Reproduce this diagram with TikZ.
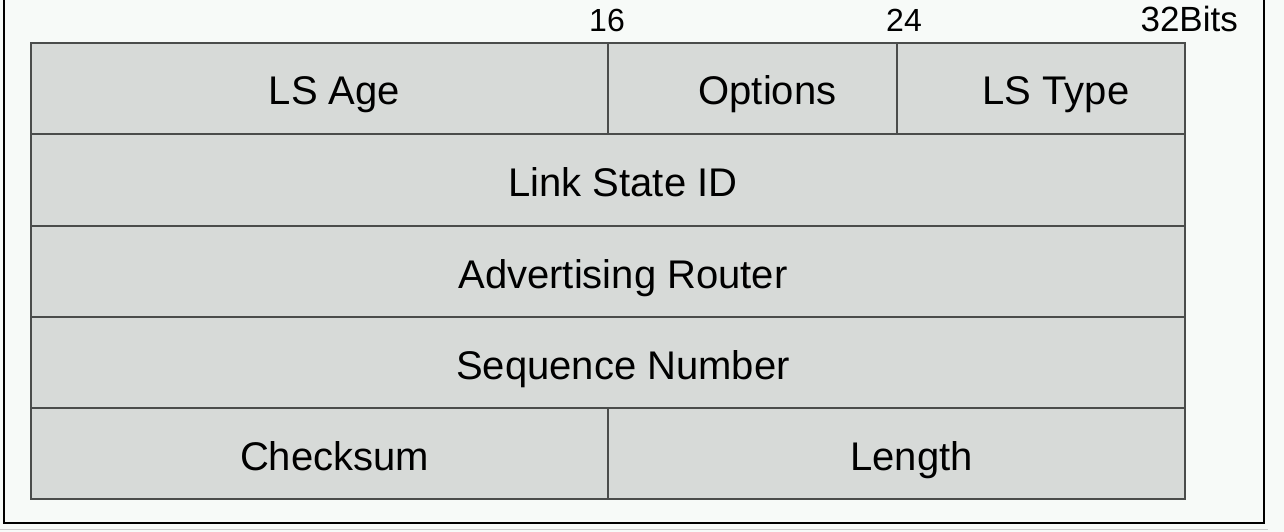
\documentclass[tikz,border=0pt]{standalone}
\usepackage{fontspec}
\setmainfont{Liberation Sans}
\definecolor{pagebg}{HTML}{F7FAF8}
\definecolor{cellfill}{HTML}{D7DAD8}
\definecolor{cellline}{HTML}{4A4C4B}
\begin{document}
\begin{tikzpicture}[x=1pt,y=-1pt,
  cell/.style={draw=cellline,line width=2pt,fill=cellfill,inner sep=0pt,
    anchor=north west,minimum height=91pt,text height=33pt,text depth=0pt,
    font=\fontsize{40}{44}\selectfont,
    execute at begin node={\hspace*{30pt}}},
  bitlabel/.style={font=\fontsize{32}{34}\selectfont,inner sep=0pt}]
\useasboundingbox[fill=pagebg] (0,0) rectangle (1284,532);
% outer frame (open at the top)
\draw[line width=2.5pt] (4,-5) -- (4,523) -- (1264,523) -- (1264,-5);
\draw[gray!40,line width=1pt] (0,529) -- (1268,529);
% row 1: LS Age | Options | LS Type
\node[cell,minimum width=577pt] (age) at (30,42) {LS Age};
\node[cell,minimum width=289pt] (opt) at (607,42) {Options};
\node[cell,minimum width=288pt] (type) at (896,42) {LS Type};
% full-width rows
\node[cell,minimum width=1154pt,minimum height=92pt] (lsid) at (30,133) {Link State ID};
\node[cell,minimum width=1154pt] (adv) at (30,225) {Advertising Router};
\node[cell,minimum width=1154pt] (seq) at (30,316) {Sequence Number};
% last row: Checksum | Length
\node[cell,minimum width=577pt] (chk) at (30,407) {Checksum};
\node[cell,minimum width=577pt] (len) at (607,407) {Length};
% bit positions
\node[bitlabel,anchor=base] (b16) at (607,32) {16};
\node[bitlabel,anchor=base] (b24) at (904,32) {24};
\node[bitlabel,anchor=base east,font=\fontsize{35}{37}\selectfont] (b32) at (1238,32) {32Bits};
\end{tikzpicture}
\end{document}
